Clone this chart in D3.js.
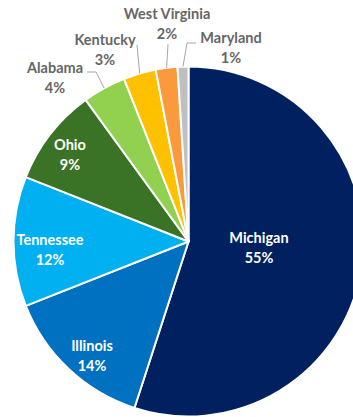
<!DOCTYPE html>
<html>
<head>
<meta charset="utf-8">
<script src="https://cdn.jsdelivr.net/npm/d3@7"></script>
<style>
  html, body { margin: 0; padding: 0; background: #fff; }
  svg { display: block; }
  text { font-family: Lato, "Open Sans", sans-serif; font-weight: 700; }
</style>
</head>
<body>
<svg id="chart" width="353" height="417"></svg>
<script>
// Share of total by state (percent)
const states = ["Michigan", "Illinois", "Tennessee", "Ohio", "Alabama", "Kentucky", "West Virginia", "Maryland"];
const shares = [55, 14, 12, 9, 4, 3, 2, 1];
const colors = ["#002060", "#0070C0", "#00B0F0", "#3A7226", "#92D050", "#FFC000", "#FA9A3C", "#BFBFBF"];

// Label anchor points (centre of the two-line label) and leader elbows
const labelAnchors = {
  "Michigan":      { x: 259, y: 252, inside: true },
  "Illinois":      { x: 92,  y: 360, inside: true },
  "Tennessee":     { x: 50,  y: 254, inside: true },
  "Ohio":          { x: 70,  y: 159, inside: true },
  "Alabama":       { x: 55,  y: 82,  inside: false, elbow: [[96, 72], [87, 72]] },
  "Kentucky":      { x: 105, y: 54,  inside: false, elbow: [[137, 45]] },
  "West Virginia": { x: 167, y: 28,  inside: false, elbow: [[168, 44]] },
  "Maryland":      { x: 231, y: 52,  inside: false, elbow: [[187, 43], [196, 43]] }
};

const W = 353, H = 417;
const cx = 188.5, cy = 241.5, R = 175;

const svg = d3.select("#chart");
const data = states.map((s, i) => ({ name: s, value: shares[i], color: colors[i] }));

const pie = d3.pie().value(d => d.value).sort(null);
const arcs = pie(data);
const arc = d3.arc().innerRadius(0).outerRadius(R);
const edgeArc = d3.arc().innerRadius(R).outerRadius(R);

const g = svg.append("g").attr("transform", `translate(${cx},${cy})`);

g.selectAll("path.slice")
  .data(arcs)
  .join("path")
  .attr("class", "slice")
  .attr("d", arc)
  .attr("fill", d => d.data.color)
  .attr("stroke", "#fff")
  .attr("stroke-width", 2)
  .attr("stroke-linejoin", "round");

// Leader lines for the small outer slices
const lineGen = d3.line();
arcs.forEach(a => {
  const lab = labelAnchors[a.data.name];
  if (lab.inside) return;
  const [ex, ey] = edgeArc.centroid(a);
  const pts = [[ex + cx, ey + cy]].concat(lab.elbow);
  svg.append("path")
    .attr("d", lineGen(pts))
    .attr("fill", "none")
    .attr("stroke", "#A6A6A6")
    .attr("stroke-width", 1);
});

// Two-line labels: name and percent
arcs.forEach(a => {
  const lab = labelAnchors[a.data.name];
  const t = svg.append("text")
    .attr("text-anchor", "middle")
    .attr("font-size", 14.5)
    .attr("fill", lab.inside ? "#FFFFFF" : "#666666");
  t.append("tspan").attr("x", lab.x).attr("y", lab.y - 9).text(a.data.name);
  t.append("tspan").attr("x", lab.x).attr("y", lab.y + 11).text(a.data.value + "%");
});
</script>
</body>
</html>
